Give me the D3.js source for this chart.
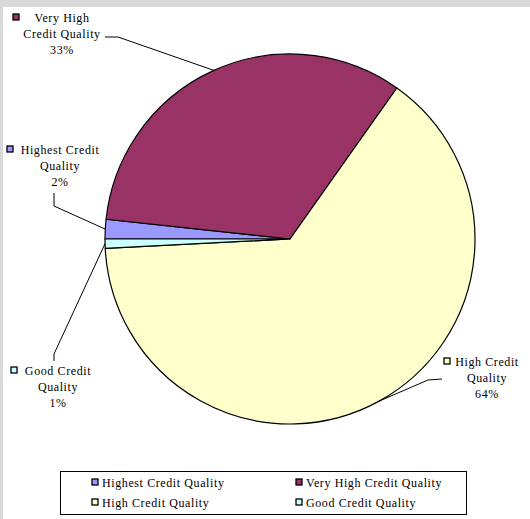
<!DOCTYPE html>
<html><head><meta charset="utf-8">
<script src="https://cdn.jsdelivr.net/npm/d3@7"></script>
<style>
html,body{margin:0;padding:0;background:#fff;}
svg{display:block;}
text{font-family:"Liberation Serif","Times New Roman",serif;font-size:12px;fill:#000;letter-spacing:0.6px;}
</style></head>
<body>
<script>
const categories = ["Highest Credit Quality","Very High Credit Quality","High Credit Quality","Good Credit Quality"];
const values = [1.7, 33.1, 64.4, 0.8];
const pctLabels = ["2%","33%","64%","1%"];
const labelLines = [["Highest Credit","Quality"],["Very High","Credit Quality"],["High Credit","Quality"],["Good Credit","Quality"]];
const colors = ["#9999FF","#993366","#FFFFCC","#CCFFFF"];

const W = 530, H = 519;
const svg = d3.select("body").append("svg").attr("width", W).attr("height", H);
svg.append("rect").attr("width", W).attr("height", H).attr("fill", "#d9d9d9");
svg.append("rect").attr("x", 3).attr("y", 7).attr("width", W - 3).attr("height", H - 7).attr("fill", "#fff");

const cx = 290, cy = 239, r = 185;
const pie = d3.pie().sort(null).value(d => d).startAngle(-Math.PI / 2).endAngle(3 * Math.PI / 2);
const arcs = pie(values);
const arc = d3.arc().innerRadius(0).outerRadius(r);
const g = svg.append("g").attr("transform", `translate(${cx},${cy})`);
g.selectAll("path").data(arcs).join("path")
  .attr("d", arc).attr("fill", (d, i) => colors[i])
  .attr("stroke", "#000").attr("stroke-width", 1.2).attr("stroke-linejoin", "round");

function edge(d) {
  const a = (d.startAngle + d.endAngle) / 2;
  return [cx + r * Math.sin(a), cy - r * Math.cos(a)];
}

const labelPos = [
  {x: 60, y: 154, mx: 7, my: 146, leader: p => [p, [54, 206], [54, 193]]},
  {x: 62, y: 22, mx: 13, my: 14, leader: p => [p, [118, 37], [105, 37]]},
  {x: 487, y: 366, mx: 444, my: 358, leader: p => [p, [428, 380], [442, 379]]},
  {x: 58, y: 375, mx: 11, my: 367, leader: p => [p, [54, 354], [54, 361]]}
];

const line = d3.line();
arcs.forEach((d, i) => {
  const L = labelPos[i];
  svg.append("path").attr("d", line(L.leader(edge(d))))
    .attr("fill", "none").attr("stroke", "#000").attr("stroke-width", 1);
  svg.append("rect").attr("x", L.mx).attr("y", L.my).attr("width", 6).attr("height", 6)
    .attr("fill", colors[i]).attr("stroke", "#000").attr("stroke-width", 1.3);
  const t = svg.append("text").attr("text-anchor", "middle");
  labelLines[i].concat([pctLabels[i]]).forEach((s, k) => {
    t.append("tspan").attr("x", L.x).attr("y", L.y + k * 16).text(s);
  });
});

const lg = svg.append("g");
lg.append("rect").attr("x", 60.5).attr("y", 471.5).attr("width", 406).attr("height", 43)
  .attr("fill", "#fff").attr("stroke", "#000").attr("stroke-width", 1);
const legPos = [[92, 487], [296, 487], [92, 507], [296, 507]];
categories.forEach((c, i) => {
  const [lx, ly] = legPos[i];
  lg.append("rect").attr("x", lx).attr("y", ly - 8).attr("width", 6).attr("height", 6)
    .attr("fill", colors[i]).attr("stroke", "#000").attr("stroke-width", 1.3);
  lg.append("text").attr("x", lx + 10).attr("y", ly).text(c);
});
</script>
</body></html>
